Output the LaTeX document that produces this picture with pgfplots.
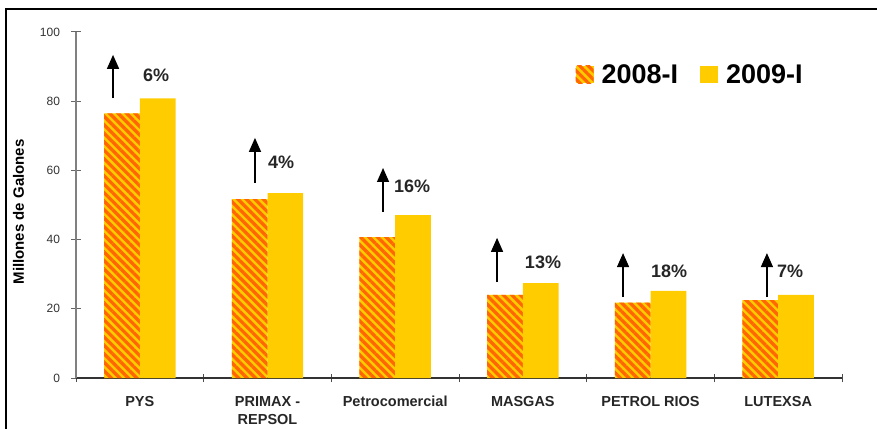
\documentclass[border=0pt]{standalone}
\usepackage{pgfplots}
\pgfplotsset{compat=1.18}
\usepackage{fontspec}
\setmainfont{Liberation Sans}
\usetikzlibrary{patterns.meta,arrows.meta}
\definecolor{barO}{HTML}{FF6600}
\definecolor{barY}{HTML}{FFCC00}
\begin{document}
\begin{tikzpicture}[x=1pt,y=1pt]
\useasboundingbox (0,0) rectangle (877,428);
\draw[line width=2pt] (6,-5) -- (6,419) -- (885,419);
\begin{axis}[
  at={(76pt,50pt)}, anchor=south west,
  scale only axis, width=766pt, height=346pt,
  xmin=-0.5, xmax=5.5, ymin=0, ymax=100,
  axis x line=bottom, axis y line=left,
  x axis line style={-, line width=1.8pt, draw=black!80},
  y axis line style={-, line width=1.2pt, draw=black!50},
  xtick={0,1,2,3,4,5},
  xticklabels={PYS, {PRIMAX -\\REPSOL}, Petrocomercial, MASGAS, PETROL RIOS, LUTEXSA},
  major x tick style={draw=none},
  minor xtick={-0.5,0.5,1.5,2.5,3.5,4.5,5.5},
  minor x tick style={draw=black!70, line width=1pt},
  minor tick length=8pt,
  ytick={0,20,40,60,80,100},
  y tick style={draw=black!60, line width=1pt},
  major tick length=9pt,
  tick align=center,
  /pgf/number format/assume math mode=true,
  xticklabel style={font=\fontsize{14.5}{18}\selectfont\bfseries, align=center, yshift=-10pt, text=black!85},
  yticklabel style={font=\fontsize{12}{14}\selectfont, xshift=-8pt, text=black!80},
  ylabel={Millones de Galones},
  ylabel style={at={(axis description cs:-0.075,0.48)}, anchor=center, font=\fontsize{15}{17}\selectfont\bfseries},
  legend style={at={(axis description cs:0.648,0.876)}, anchor=west, draw=none, fill=none,
    font=\fontsize{27}{30}\selectfont\bfseries,
    /tikz/every odd column/.append style={column sep=6pt},
    /tikz/every even column/.append style={column sep=20pt}},
  legend columns=2,
  legend image code/.code={\fill[#1] (0pt,-8.5pt) rectangle (18pt,9pt);},
]
\addplot[ybar, bar width=0.28, bar shift=-0.14, draw=none, fill=barY,
  postaction={pattern={Lines[angle=-45,distance=6pt,line width=3.3pt]}, pattern color=barO}]
  coordinates {(0,76.5) (1,51.7) (2,40.7) (3,24.0) (4,21.8) (5,22.5)};
\addlegendentry{2008-I}
\addplot[ybar, bar width=0.28, bar shift=0.14, draw=none, fill=barY]
  coordinates {(0,80.8) (1,53.4) (2,47.1) (3,27.4) (4,25.2) (5,24.0)};
\addlegendentry{2009-I}
\tikzset{arr/.style={line width=1.4pt, -{Triangle[length=14pt,width=12pt]}}}
\draw[arr] (axis cs:-0.21,80.9) -- (axis cs:-0.21,93.4);
\draw[arr] (axis cs:0.902,56.4) -- (axis cs:0.902,69.4);
\draw[arr] (axis cs:1.905,48.0) -- (axis cs:1.905,60.7);
\draw[arr] (axis cs:2.798,27.7) -- (axis cs:2.798,40.5);
\draw[arr] (axis cs:3.785,23.4) -- (axis cs:3.785,36.1);
\draw[arr] (axis cs:4.912,23.4) -- (axis cs:4.912,36.1);
\tikzset{pct/.style={font=\fontsize{18}{20}\selectfont\bfseries, text=black!85}}
\node[pct] at (axis cs:0.127,87.6) {6\%};
\node[pct] at (axis cs:1.106,62.4) {4\%};
\node[pct] at (axis cs:2.132,55.5) {16\%};
\node[pct] at (axis cs:3.158,33.5) {13\%};
\node[pct] at (axis cs:4.145,30.9) {18\%};
\node[pct] at (axis cs:5.093,30.9) {7\%};
\end{axis}
\end{tikzpicture}
\end{document}
